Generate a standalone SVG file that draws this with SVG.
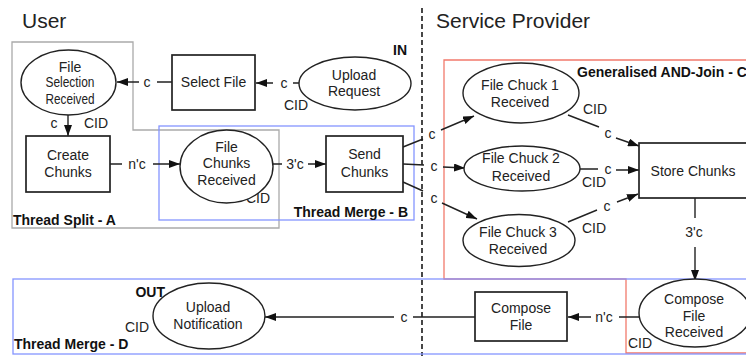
<svg xmlns="http://www.w3.org/2000/svg" width="746" height="356" viewBox="0 0 746 356">
<defs>
<marker id="ah" markerUnits="userSpaceOnUse" markerWidth="11" markerHeight="8" refX="11" refY="4" orient="auto">
<path d="M0,0 L11,4 L0,8 z" fill="#111"/>
</marker>
<style>
text{font-family:"Liberation Sans",Arial,sans-serif;fill:#222}
.t{font-size:14px;text-anchor:middle}
.l{font-size:14px;text-anchor:middle}
.b{font-size:14px;font-weight:bold;fill:#111}
.h{font-size:21px}
.node rect{fill:#fff;stroke:#222;stroke-width:1.7}
.node ellipse{fill:#fff;stroke:#222;stroke-width:1.4}
.con path{fill:none;stroke:#222;stroke-width:1.4}
.gray{fill:none;stroke:#aaa;stroke-width:1.3}
.blue{fill:none;stroke:#8595ff;stroke-width:1.3}
.red{fill:none;stroke:#f27a6c;stroke-width:1.3}
</style>
</defs>
<rect width="746" height="356" fill="#fff"/>

<!-- titles -->
<text class="h" x="22" y="28">User</text>
<text class="h" x="436" y="28">Service Provider</text>
<line x1="422" y1="8" x2="422" y2="356" stroke="#333" stroke-width="1.8" stroke-dasharray="5,3"/>

<!-- region boxes -->
<g id="regions">
<path class="gray" d="M12,42 H133 V130 H279 V228 H12 Z"/>
<rect class="blue" x="159" y="126" width="255" height="94"/>
<path class="red" d="M444,60 H760 V353 H626 V279 H444 Z"/>
<rect class="blue" x="13" y="279" width="750" height="75"/>
<text class="b" x="13" y="225">Thread Split - A</text>
<text class="b" x="408" y="217" style="text-anchor:end">Thread Merge - B</text>
<text class="b" x="577" y="77">Generalised AND-Join - C</text>
<text class="b" x="14" y="349">Thread Merge - D</text>
<text class="b" x="407" y="55" style="text-anchor:end">IN</text>
<text class="b" x="165" y="297" style="text-anchor:end">OUT</text>
</g>

<!-- connectors -->
<g class="con" id="connectors">
<path d="M172,82 H157 M139,82 H117" marker-end="url(#ah)"/>
<path d="M299,83 H293 M273,83 H256" marker-end="url(#ah)"/>
<path d="M68,115 V136" marker-end="url(#ah)"/>
<path d="M110,164 H122 M153,164 H180" marker-end="url(#ah)"/>
<path d="M273,164 H282 M308,164 H326" marker-end="url(#ah)"/>
<path d="M403,147 L423,139 M441,130 L474,116" marker-end="url(#ah)"/>
<path d="M403,164 L424,165 M443,167 L465,168" marker-end="url(#ah)"/>
<path d="M403,182 L423,191 M442,203 L477,219" marker-end="url(#ah)"/>
<path d="M568,115 L599,127 M616,138 L639,146" marker-end="url(#ah)"/>
<path d="M580,169 H598 M616,170 H639" marker-end="url(#ah)"/>
<path d="M568,222 L597,210 M617,202 L638,194" marker-end="url(#ah)"/>
<path d="M695,198 V218 M695,247 V281" marker-end="url(#ah)"/>
<path d="M639,317 H619 M591,317 H568" marker-end="url(#ah)"/>
<path d="M475,317 H413 M394,317 H265" marker-end="url(#ah)"/>
<text class="l" x="147" y="87">c</text>
<text class="l" x="284" y="88">c</text>
<text class="l" x="296" y="110">CID</text>
<text class="l" x="54" y="128">c</text>
<text class="l" x="96" y="128">CID</text>
<text class="l" x="137" y="169">n'c</text>
<text class="l" x="295" y="169">3'c</text>
<text class="l" x="258" y="203">CID</text>
<text class="l" x="432" y="139">c</text>
<text class="l" x="434" y="171">c</text>
<text class="l" x="434" y="203">c</text>
<text class="l" x="595" y="114">CID</text>
<text class="l" x="608" y="138">c</text>
<text class="l" x="608" y="174">c</text>
<text class="l" x="594" y="187">CID</text>
<text class="l" x="607" y="211">c</text>
<text class="l" x="594" y="233">CID</text>
<text class="l" x="694" y="237">3'c</text>
<text class="l" x="604" y="322">n'c</text>
<text class="l" x="404" y="322">c</text>
<text class="l" x="137" y="332">CID</text>
<text class="l" x="640" y="348">CID</text>
</g>

<!-- nodes -->
<g class="node" id="file-selection-received">
<ellipse cx="68.5" cy="82.5" rx="47.5" ry="32.5"/>
<text class="t" x="70" y="72">File</text>
<text class="t" x="70" y="87" textLength="49" lengthAdjust="spacingAndGlyphs">Selection</text>
<text class="t" x="70" y="104" textLength="49" lengthAdjust="spacingAndGlyphs">Received</text>
</g>
<g class="node" id="select-file">
<rect x="172" y="55" width="83" height="55"/>
<text class="t" x="213.5" y="87">Select File</text>
</g>
<g class="node" id="upload-request">
<ellipse cx="355" cy="83.5" rx="56" ry="26.5"/>
<text class="t" x="354" y="80">Upload</text>
<text class="t" x="354" y="96">Request</text>
</g>
<g class="node" id="create-chunks">
<rect x="26" y="136" width="84" height="56"/>
<text class="t" x="68" y="160">Create</text>
<text class="t" x="68" y="177">Chunks</text>
</g>
<g class="node" id="file-chunks-received">
<ellipse cx="226.5" cy="166.5" rx="46.5" ry="36.5"/>
<text class="t" x="226.5" y="152">File</text>
<text class="t" x="226.5" y="168">Chunks</text>
<text class="t" x="226.5" y="185">Received</text>
</g>
<g class="node" id="send-chunks">
<rect x="326" y="136" width="77" height="56"/>
<text class="t" x="364.5" y="159">Send</text>
<text class="t" x="364.5" y="177">Chunks</text>
</g>
<g class="node" id="file-chuck-1">
<ellipse cx="521" cy="93" rx="58" ry="30"/>
<text class="t" x="520" y="90">File Chuck 1</text>
<text class="t" x="520" y="107">Received</text>
</g>
<g class="node" id="file-chuck-2">
<ellipse cx="522" cy="168.5" rx="58" ry="22.5"/>
<text class="t" x="521" y="163">File Chuck 2</text>
<text class="t" x="521" y="181">Received</text>
</g>
<g class="node" id="file-chuck-3">
<ellipse cx="519" cy="240.5" rx="56" ry="26"/>
<text class="t" x="518" y="237">File Chuck 3</text>
<text class="t" x="518" y="254">Received</text>
</g>
<g class="node" id="store-chunks">
<rect x="639" y="143" width="120" height="55"/>
<text class="t" x="693" y="176">Store Chunks</text>
</g>
<g class="node" id="compose-file-received">
<ellipse cx="695" cy="313" rx="56" ry="34"/>
<text class="t" x="694" y="304">Compose</text>
<text class="t" x="694" y="321">File</text>
<text class="t" x="694" y="337">Received</text>
</g>
<g class="node" id="compose-file">
<rect x="475" y="292" width="92" height="49"/>
<text class="t" x="521" y="313">Compose</text>
<text class="t" x="521" y="330">File</text>
</g>
<g class="node" id="upload-notification">
<ellipse cx="209" cy="316" rx="56" ry="33"/>
<text class="t" x="208" y="312">Upload</text>
<text class="t" x="208" y="329">Notification</text>
</g>
</svg>
